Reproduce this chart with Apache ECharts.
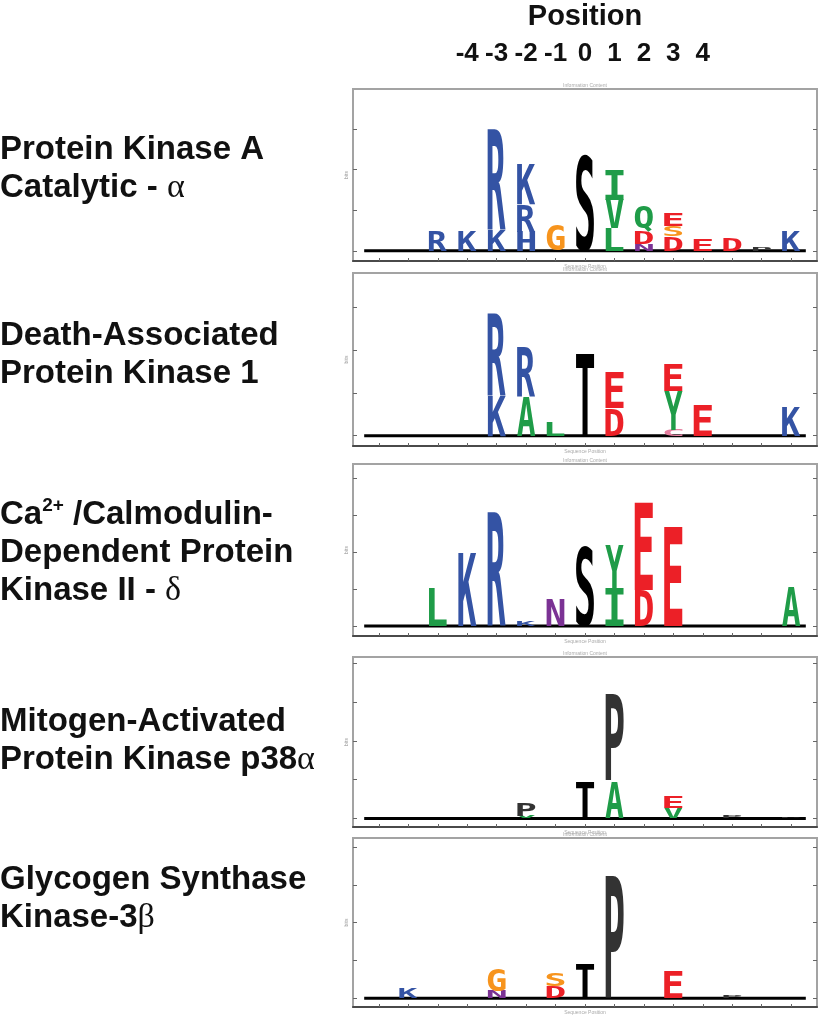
<!DOCTYPE html>
<html><head><meta charset="utf-8">
<script src="https://cdn.jsdelivr.net/npm/echarts@6/dist/echarts.min.js"></script>
<style>html,body{margin:0;padding:0;background:#fff}#chart{width:821px;height:1016px}</style>
</head><body><div id="chart"></div>
<script>
// ---------------- data ----------------
const positions = [-7,-6,-5,-4,-3,-2,-1,0,1,2,3,4,5,6,7];
const headerTicks = [-4,-3,-2,-1,0,1,2,3,4];
const headerTitle = 'Position';
const panelLabels = [
  'Protein Kinase A\nCatalytic - {g|α}',
  'Death-Associated\nProtein Kinase 1',
  'Ca{sup|2+} /Calmodulin-\nDependent Protein\nKinase II - {g|δ}',
  'Mitogen-Activated\nProtein Kinase p38{g|α}',
  'Glycogen Synthase\nKinase-3{g|β}'
];
// [position, residue, bits] listed bottom -> top within each position
const pkaLetters = [
  [-5,'R',0.48],
  [-4,'K',0.48],
  [-3,'K',0.52],[-3,'R',2.49],
  [-2,'H',0.47],[-2,'R',0.69],[-2,'K',0.99],
  [-1,'G',0.64],
  [0,'S',2.40],
  [1,'L',0.56],[1,'V',0.70],[1,'I',0.74],
  [2,'N',0.16],[2,'D',0.31],[2,'Q',0.66],
  [3,'D',0.35],[3,'S',0.25],[3,'E',0.33],
  [4,'E',0.27],
  [5,'D',0.31],
  [6,'P',0.10],
  [7,'K',0.48]
];
const dapkLetters = [
  [-3,'K',0.95],[-3,'R',1.95],
  [-2,'A',0.90],[-2,'R',1.18],
  [-1,'L',0.33],
  [0,'T',1.90],
  [1,'D',0.64],[1,'E',0.86],
  [3,'C',0.14],[3,'Y',0.90],[3,'E',0.65],
  [4,'E',0.72],
  [7,'K',0.66]
];
const camk2Letters = [
  [-5,'L',1.02],
  [-4,'K',1.96],
  [-3,'R',3.09],
  [-2,'K',0.15],
  [-1,'N',0.75],
  [0,'S',2.19],
  [1,'I',1.02],[1,'Y',1.17],
  [2,'D',0.97],[2,'E',2.35],
  [3,'E',2.68],
  [7,'A',1.06]
];
const p38Letters = [
  [-2,'V',0.06],[-2,'P',0.33],
  [0,'T',0.95],
  [1,'A',0.95],[1,'P',2.23],
  [3,'V',0.26],[3,'E',0.30],
  [5,'P',0.05],
  [7,'P',0.04]
];
const gsk3Letters = [
  [-6,'K',0.28],
  [-3,'N',0.19],[-3,'G',0.61],
  [-1,'D',0.32],[-1,'S',0.35],
  [0,'T',0.89],
  [1,'P',3.24],
  [3,'E',0.72],
  [5,'P',0.08]
];
const panelLetters = [pkaLetters, dapkLetters, camk2Letters, p38Letters, gsk3Letters];
// y-axis (bits) ranges of each panel
const panelYMin = [-0.25, -0.24, -0.27, -0.22, -0.23];
const panelYMax = [3.98, 3.80, 4.38, 4.16, 4.24];

// ---------------- styling / layout ----------------
const residueColors = {K:'#3453a4',R:'#3453a4',H:'#3453a4',D:'#ec2027',E:'#ec2027',
  G:'#f7941d',S:'#f7941d',N:'#7b3294',Q:'#1f9c48',A:'#1f9c48',V:'#1f9c48',L:'#1f9c48',
  I:'#1f9c48',Y:'#1f9c48',P:'#333333',T:'#000000',C:'#e57fa0'};
function letterColor(letter, pos){ return pos === 0 ? '#000000' : (residueColors[letter] || '#000'); }

const gridTop = [89, 273, 464, 657, 838];
const gridBottom = [261, 446, 636, 827, 1008];
const labelTop = [131, 317, 496, 703, 861];
const GRID_LEFT = 353, GRID_WIDTH = 464;
const X_MIN = -7.88, X_MAX = 7.88;
const LETTER_WIDTH = 0.62;

const GLYPH_FONT = "bold 100px 'DejaVu Sans Mono'";
const mctx = document.createElement('canvas').getContext('2d');
const glyphCache = {};
function glyphBox(ch){
  if (!glyphCache[ch]) {
    mctx.font = GLYPH_FONT; mctx.textBaseline = 'middle'; mctx.textAlign = 'left';
    const m = mctx.measureText(ch);
    glyphCache[ch] = {l:m.actualBoundingBoxLeft, r:m.actualBoundingBoxRight, a:m.actualBoundingBoxAscent, d:m.actualBoundingBoxDescent};
  }
  return glyphCache[ch];
}
function stackColumns(list){
  const tops = {};
  return list.map(([pos, letter, bits]) => {
    const base = tops[pos] || 0; tops[pos] = base + bits;
    return {pos, letter, base, bits};
  });
}

const option = {
  animation:false, backgroundColor:'#ffffff',
  title: [], grid: [], xAxis: [], yAxis: [], series: []
};

panelLabels.forEach((txt, k) => {
  option.title.push({
    text: txt, left: 0, top: labelTop[k], padding: 0,
    textStyle: {fontFamily:'Liberation Sans', fontWeight:'bold', fontSize:33, color:'#111', lineHeight:38,
      rich: {
        g: {fontFamily:'Liberation Serif', fontWeight:'normal', fontSize:34, color:'#111', lineHeight:38},
        sup: {fontFamily:'Liberation Sans', fontWeight:'bold', fontSize:19, color:'#111', lineHeight:22, verticalAlign:'top'}
      }}
  });
});

panelLetters.forEach((letters, k) => {
  option.grid.push({left:GRID_LEFT, top:gridTop[k], width:GRID_WIDTH, height:gridBottom[k]-gridTop[k],
    show:true, borderColor:'#a3a3a3', borderWidth:2, backgroundColor:'#fff'});
  const yTicks = [];
  for (let v = 0; v <= panelYMax[k] + 1e-9; v++) yTicks.push(v);
  const xBottomIdx = option.xAxis.length;
  option.xAxis.push({type:'value', gridIndex:k, min:X_MIN, max:X_MAX, position:'bottom',
    axisLine:{show:true, onZero:false, lineStyle:{color:'#4a4a4a', width:2}},
    axisTick:{show:true, inside:true, length:3, customValues:positions, lineStyle:{color:'#666'}},
    axisLabel:{show:false}, splitLine:{show:false},
    name:'Sequence Position', nameLocation:'middle', nameGap:3, nameTextStyle:{fontSize:5, color:'#aaa'}});
  option.xAxis.push({type:'value', gridIndex:k, min:X_MIN, max:X_MAX, position:'top',
    axisLine:{show:false, onZero:false}, axisTick:{show:false}, axisLabel:{show:false}, splitLine:{show:false},
    name:'Information Content', nameLocation:'middle', nameGap:1, nameTextStyle:{fontSize:5, color:'#aaa'}});
  if (k === 0) {
    option.xAxis.push({type:'value', gridIndex:0, min:X_MIN, max:X_MAX, position:'top',
      axisLine:{show:false, onZero:false}, axisTick:{show:false}, splitLine:{show:false},
      axisLabel:{show:true, customValues:headerTicks, formatter:v => String(v), margin:22,
        fontFamily:'Liberation Sans', fontWeight:'bold', fontSize:26, color:'#111'},
      name: headerTitle, nameLocation:'middle', nameGap:58,
      nameTextStyle:{fontFamily:'Liberation Sans', fontWeight:'bold', fontSize:29, color:'#111'}});
  }
  const yLeftIdx = option.yAxis.length;
  option.yAxis.push({type:'value', gridIndex:k, min:panelYMin[k], max:panelYMax[k], position:'left',
    axisLine:{show:false, onZero:false}, axisTick:{show:true, inside:true, length:4, customValues:yTicks, lineStyle:{color:'#666'}},
    axisLabel:{show:false}, splitLine:{show:false},
    name:'bits', nameLocation:'middle', nameGap:4, nameTextStyle:{fontSize:5, color:'#999'}});
  option.yAxis.push({type:'value', gridIndex:k, min:panelYMin[k], max:panelYMax[k], position:'right',
    axisLine:{show:false, onZero:false}, axisTick:{show:true, inside:true, length:4, customValues:yTicks, lineStyle:{color:'#666'}},
    axisLabel:{show:false}, splitLine:{show:false}});

  const stacked = stackColumns(letters);
  option.series.push({
    type:'custom', xAxisIndex:xBottomIdx, yAxisIndex:yLeftIdx, silent:true, z:3,
    data: stacked.map(s => [s.pos, s.base, s.bits]),
    renderItem: (params, api) => {
      const pos = api.value(0), base = api.value(1), h = api.value(2);
      const ent = stacked[params.dataIndex];
      const tl = api.coord([pos - LETTER_WIDTH/2, base + h]);
      const br = api.coord([pos + LETTER_WIDTH/2, base]);
      const rw = br[0] - tl[0], rh = br[1] - tl[1];
      if (rh < 0.4) return null;
      const g = glyphBox(ent.letter);
      const sx = rw / (g.l + g.r), sy = rh / (g.a + g.d);
      return {type:'text', x: tl[0] + g.l * sx, y: tl[1] + g.a * sy, scaleX: sx, scaleY: sy,
        style:{text: ent.letter, font: GLYPH_FONT, fill: letterColor(ent.letter, pos),
          align:'left', verticalAlign:'middle', lineHeight:100}};
    }
  });
  option.series.push({
    type:'line', xAxisIndex:xBottomIdx, yAxisIndex:yLeftIdx, silent:true, z:2, showSymbol:false, symbol:'none',
    data: [[positions[0] - 0.5, 0], [positions[positions.length-1] + 0.5, 0]],
    lineStyle:{color:'#000', width:3}
  });
});

const chart = echarts.init(document.getElementById('chart'), null, {renderer:'canvas'});
chart.setOption(option);
</script></body></html>
